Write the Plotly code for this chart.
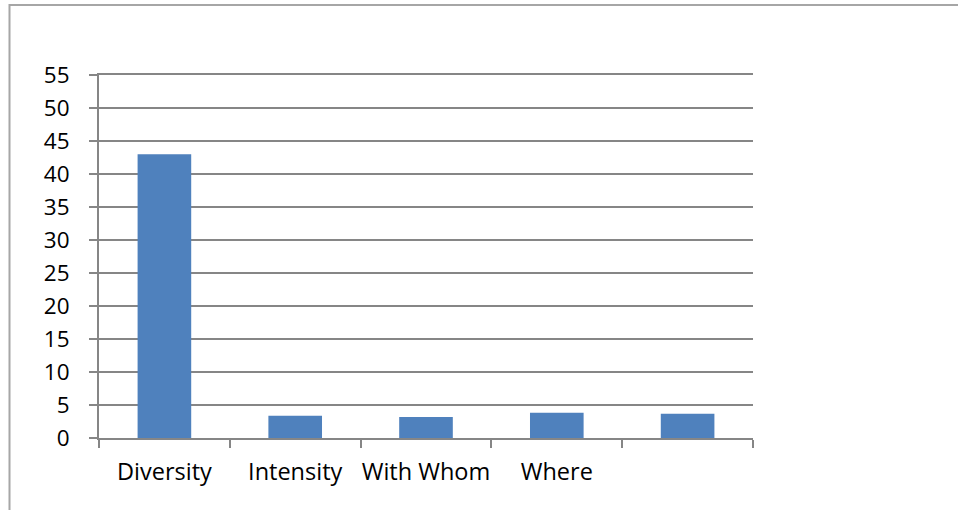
import plotly.graph_objects as go

categories = ["Diversity", "Intensity", "With Whom", "Where", ""]
values = [43.0, 3.38, 3.2, 3.83, 3.68]
y_ticks = [0, 5, 10, 15, 20, 25, 30, 35, 40, 45, 50, 55]

W, H = 958, 510
L, R, T, B = 99, 205, 75, 72
pw, ph = W - L - R, H - T - B

xs = list(range(len(categories)))
fig = go.Figure(go.Bar(x=xs, y=values, width=0.41, marker=dict(color="#4F81BD", line=dict(width=0))))

font = dict(family="Open Sans", size=23.5, color="#000000")
yfont = dict(family="Open Sans", size=22.5, color="#000000")
fig.update_layout(
    width=W, height=H, margin=dict(l=L, r=R, t=T, b=B),
    paper_bgcolor="white", plot_bgcolor="white", showlegend=False,
    font=font,
    xaxis=dict(range=[-0.5, len(categories) - 0.5], tickvals=xs, ticktext=categories,
               ticks="", showgrid=False, zeroline=False, showline=True, mirror=True,
               linecolor="#868686", linewidth=2, tickfont=font, ticklabelstandoff=12,
               minor=dict(tick0=-0.5, dtick=1, ticks="outside", ticklen=8, tickcolor="#868686",
                          tickwidth=2, showgrid=False)),
    yaxis=dict(range=[0, 55], tickvals=y_ticks, ticks="outside", ticklen=8, tickcolor="#868686",
               tickwidth=2, showgrid=True, gridcolor="#868686", gridwidth=2, zeroline=False,
               showline=True, linecolor="#868686", linewidth=2, tickfont=yfont,
               ticklabelstandoff=15),
)

# outer chart frame (cut off on right and bottom as in the reference)
fig.add_shape(type="rect", xref="paper", yref="paper",
              x0=(9.5 - L) / pw, x1=(W + 20 - L) / pw,
              y0=-(H + 20 - T - ph) / ph, y1=1 + (T - 5) / ph,
              line=dict(color="#a6a6a6", width=2), layer="below")

fig.write_html("out.html")
